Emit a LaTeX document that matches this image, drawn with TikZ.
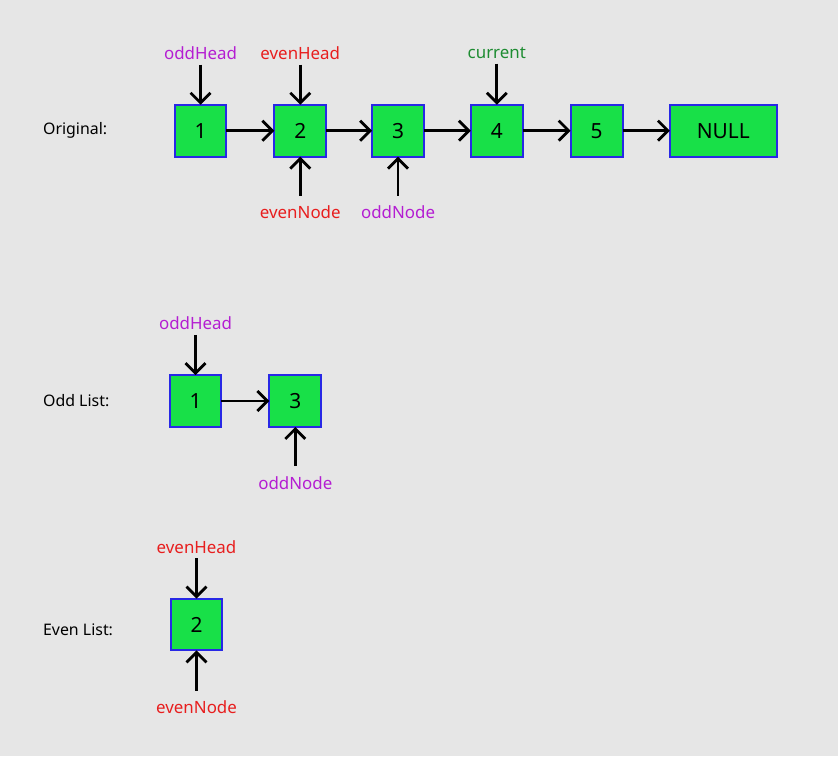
\documentclass[tikz,border=0pt]{standalone}
\usepackage{fontspec}
\setmainfont{Noto Sans}
\usetikzlibrary{arrows.meta, positioning}
\definecolor{bggray}{RGB}{230,230,230}
\definecolor{nodegreen}{RGB}{24,224,72}
\definecolor{nodeblue}{RGB}{40,40,230}
\definecolor{ptrpurple}{RGB}{180,30,210}
\definecolor{ptrred}{RGB}{232,30,30}
\definecolor{ptrgreen}{RGB}{30,140,50}
\tikzset{
  listnode/.style={rectangle, draw=nodeblue, fill=nodegreen,
    minimum width=52bp, minimum height=52bp, inner sep=0pt, outer sep=0pt,
    font=\fontsize{21}{25}\selectfont, line width=2bp},
  nullnode/.style={listnode, minimum width=107bp},
  rowlabel/.style={anchor=west, inner sep=0pt, font=\fontsize{16}{19}\selectfont},
  ptrlabel/.style={inner sep=2pt, font=\fontsize{17}{20}\selectfont},
  link/.style={-{Straight Barb[length=10bp,width=20bp]}, line width=2.8bp},
  ptrdown/.style={link, shorten <=3bp},
  ptrup/.style={link, shorten <=8bp}
}

\begin{document}
\begin{tikzpicture}[x=1bp, y=-1bp]
  \fill[bggray] (-1,-1) rectangle (839,757);
  \useasboundingbox (0,0) rectangle (838,756);

  % Original list
  \node[rowlabel] (origlbl) at (42,130) {Original:};
  \node[listnode] (o1) at (200,130) {1};
  \node[listnode] (o2) at (300,130) {2};
  \node[listnode] (o3) at (398,130) {3};
  \node[listnode] (o4) at (497,130) {4};
  \node[listnode] (o5) at (597,130) {5};
  \node[nullnode] (onull) at (724,130) {NULL};
  \foreach \a/\b in {o1/o2, o2/o3, o3/o4, o4/o5, o5/onull} {
    \draw[link] (\a) -- (\b);
  }
  % Pointers
  \node[ptrlabel, text=ptrpurple] (oddHeadA) at (200,52) {oddHead};
  \node[ptrlabel, text=ptrred] (evenHeadA) at (300,52) {evenHead};
  \node[ptrlabel, text=ptrgreen] (currentA) at (497,52) {current};
  \node[ptrlabel, text=ptrred] (evenNodeA) at (300,212) {evenNode};
  \node[ptrlabel, text=ptrpurple] (oddNodeA) at (398,212) {oddNode};
  \draw[ptrdown] (oddHeadA) -- (o1);
  \draw[ptrdown] (evenHeadA) -- (o2);
  \draw[ptrdown] (currentA) -- (o4);
  \draw[ptrup] (evenNodeA) -- (o2);
  \draw[ptrup] (oddNodeA) -- (o3);

  % Odd list
  \node[rowlabel] (oddlbl) at (42,401) {Odd List:};
  \node[listnode] (ol1) at (195,401) {1};
  \node[listnode] (ol3) at (295,401) {3};
  \draw[link] (ol1) -- (ol3);
  \node[ptrlabel, text=ptrpurple] (oddHeadB) at (195,323) {oddHead};
  \node[ptrlabel, text=ptrpurple] (oddNodeB) at (295,483) {oddNode};
  \draw[ptrdown] (oddHeadB) -- (ol1);
  \draw[ptrup] (oddNodeB) -- (ol3);

  % Even list
  \node[rowlabel] (evenlbl) at (42,630) {Even List:};
  \node[listnode] (el2) at (196,625) {2};
  \node[ptrlabel, text=ptrred] (evenHeadB) at (196,547) {evenHead};
  \node[ptrlabel, text=ptrred] (evenNodeB) at (196,708) {evenNode};
  \draw[ptrdown] (evenHeadB) -- (el2);
  \draw[ptrup] (evenNodeB) -- (el2);
\end{tikzpicture}
\end{document}
